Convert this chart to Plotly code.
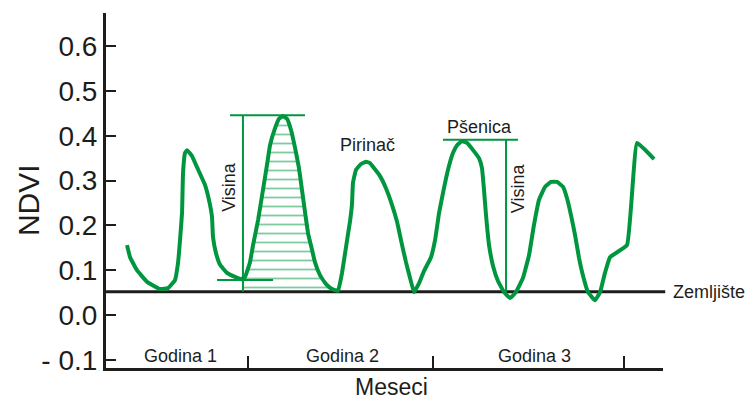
import plotly.graph_objects as go

# NDVI time profile over three seasons (x in months from start of record)
months = [1.46, 1.67, 2.15, 2.85, 3.75, 4.31, 4.79, 5.0, 5.14, 5.28, 5.35, 5.49, 5.63, 5.97, 6.32,
          6.88, 7.15, 7.36, 7.43, 7.64, 7.92, 8.40, 8.96, 9.38, 9.65, 10.0, 10.21, 10.56, 10.90,
          11.18, 11.39, 11.74, 12.01, 12.29, 12.57, 12.85, 13.13, 13.40, 13.61, 13.82, 14.03,
          14.31, 14.51, 14.86, 15.28, 15.69, 16.11, 16.39, 16.74, 16.94, 17.08, 17.15, 17.36,
          17.71, 18.06, 18.33, 18.61, 19.03, 19.44, 19.86, 20.21, 20.56, 20.83, 21.11, 21.39,
          21.74, 22.08, 22.57, 22.85, 23.13, 23.40, 23.75, 24.10, 24.38, 24.72, 25.07, 25.49,
          25.90, 26.11, 26.25, 26.39, 26.60, 26.88, 27.22, 27.64, 28.06, 28.47, 28.96, 29.38,
          29.72, 30.07, 30.49, 30.90, 31.32, 31.74, 32.01, 32.29, 32.57, 32.85, 33.13, 33.47,
          33.96, 34.31, 34.65, 35.0, 36.18, 36.88, 38.06]
ndvi = [0.156, 0.129, 0.100, 0.074, 0.058, 0.060, 0.078, 0.116, 0.167, 0.228, 0.317, 0.362, 0.368,
        0.355, 0.330, 0.290, 0.257, 0.219, 0.174, 0.138, 0.112, 0.094, 0.085, 0.080, 0.085, 0.118,
        0.156, 0.212, 0.279, 0.335, 0.379, 0.417, 0.438, 0.444, 0.438, 0.413, 0.373, 0.328, 0.279,
        0.230, 0.183, 0.145, 0.118, 0.089, 0.069, 0.058, 0.054, 0.094, 0.167, 0.208, 0.246, 0.295,
        0.324, 0.337, 0.342, 0.339, 0.328, 0.310, 0.283, 0.246, 0.208, 0.156, 0.118, 0.083, 0.051,
        0.071, 0.098, 0.129, 0.167, 0.228, 0.272, 0.324, 0.362, 0.379, 0.388, 0.384, 0.368, 0.350,
        0.328, 0.279, 0.223, 0.156, 0.109, 0.076, 0.051, 0.038, 0.051, 0.083, 0.134, 0.201, 0.257,
        0.286, 0.297, 0.297, 0.286, 0.261, 0.223, 0.179, 0.127, 0.087, 0.051, 0.033, 0.051, 0.094,
        0.129, 0.156, 0.384, 0.348]

# Soil reference level
soil_ndvi = 0.052

# Year boundaries and labels
year_ticks = [9.86, 22.71, 35.97]
year_labels = ["Godina 1", "Godina 2", "Godina 3"]
year_label_x = [5.14, 16.39, 29.79]

# Y axis ticks
y_ticks = [-0.1, 0.0, 0.1, 0.2, 0.3, 0.4, 0.5, 0.6]
y_ticktext = ["- 0.1", "0.0", "0.1", "0.2", "0.3", "0.4", "0.5", "0.6"]

# Height markers
rice_height_x = 9.51
rice_base_ndvi = 0.078
rice_peak_ndvi = 0.446
rice_base_span = [7.71, 11.60]
rice_top_span = [8.61, 13.82]
wheat_height_x = 27.78
wheat_peak_ndvi = 0.391
wheat_top_span = [23.40, 28.61]

# Integrated area under the rice season
area_start, area_end = 9.5, 16.2

GREEN = "#00963f"
INK = "#1d1d1b"
FONT = "Liberation Sans, Arial, sans-serif"

fig = go.Figure()

# hatched area between curve and soil line
season = [(m, v) for m, v in zip(months, ndvi) if area_start <= m <= area_end]
area_x = [rice_height_x] + [m for m, _ in season]
area_y = [rice_base_ndvi] + [v for _, v in season]
poly_x = area_x + [area_x[-1], area_x[0]]
poly_y = area_y + [soil_ndvi, soil_ndvi]
fig.add_trace(go.Scatter(
    x=poly_x, y=poly_y, mode="lines", fill="toself",
    line=dict(width=0, color="rgba(0,0,0,0)"),
    fillcolor="rgba(0,0,0,0)",
    fillpattern=dict(shape="-", size=9, solidity=0.2, fgcolor=GREEN,
                     bgcolor="rgba(0,0,0,0)", fillmode="overlay"),
    hoverinfo="skip", showlegend=False,
))

# main NDVI curve
fig.add_trace(go.Scatter(
    x=months, y=ndvi, mode="lines",
    line=dict(color=GREEN, width=4, shape="spline", smoothing=0.3),
    showlegend=False,
))

shapes = [
    # soil line
    dict(type="line", xref="paper", yref="y", x0=0, x1=1.004, y0=soil_ndvi, y1=soil_ndvi,
         line=dict(color=INK, width=3), layer="below"),
    # rice height marker
    dict(type="line", xref="x", yref="y", x0=rice_height_x, x1=rice_height_x,
         y0=soil_ndvi, y1=rice_peak_ndvi, line=dict(color=GREEN, width=2)),
    dict(type="line", xref="x", yref="y", x0=rice_top_span[0], x1=rice_top_span[1],
         y0=rice_peak_ndvi, y1=rice_peak_ndvi, line=dict(color=GREEN, width=2)),
    dict(type="line", xref="x", yref="y", x0=rice_base_span[0], x1=rice_base_span[1],
         y0=rice_base_ndvi, y1=rice_base_ndvi, line=dict(color=GREEN, width=2)),
    # wheat height marker
    dict(type="line", xref="x", yref="y", x0=wheat_height_x, x1=wheat_height_x,
         y0=soil_ndvi, y1=wheat_peak_ndvi, line=dict(color=GREEN, width=2)),
    dict(type="line", xref="x", yref="y", x0=wheat_top_span[0], x1=wheat_top_span[1],
         y0=wheat_peak_ndvi, y1=wheat_peak_ndvi, line=dict(color=GREEN, width=2)),
]

annotations = []
for lx, lt in zip(year_label_x, year_labels):
    annotations.append(dict(x=lx, y=-0.0915, xref="x", yref="y", text=lt, showarrow=False,
                            font=dict(size=18, color=INK, family=FONT)))
annotations += [
    dict(x=8.54, y=0.286, xref="x", yref="y", text="Visina", textangle=-90, showarrow=False,
         font=dict(size=18, color=INK, family=FONT)),
    dict(x=28.61, y=0.283, xref="x", yref="y", text="Visina", textangle=-90, showarrow=False,
         font=dict(size=18, color=INK, family=FONT)),
    dict(x=25.97, y=0.420, xref="x", yref="y", text="Pšenica", showarrow=False,
         font=dict(size=18, color=INK, family=FONT)),
    dict(x=18.19, y=0.379, xref="x", yref="y", text="Pirinač", showarrow=False,
         font=dict(size=18, color=INK, family=FONT)),
    dict(x=1.0144, y=soil_ndvi, xref="paper", yref="y", text="Zemljište", showarrow=False,
         xanchor="left", yanchor="middle", font=dict(size=18, color=INK, family=FONT)),
    dict(x=0.5117, y=-0.0535, xref="paper", yref="paper", text="Meseci", showarrow=False,
         yanchor="middle", font=dict(size=23, color=INK, family=FONT)),
    dict(x=-0.140, y=0.473, xref="paper", yref="paper", text="NDVI", textangle=-90,
         showarrow=False, xanchor="center", yanchor="middle",
         font=dict(size=30, color=INK, family=FONT)),
]

fig.update_layout(
    width=748, height=399,
    margin=dict(l=106, r=85, t=13, b=31),
    paper_bgcolor="white", plot_bgcolor="white",
    shapes=shapes, annotations=annotations,
    xaxis=dict(range=[0, 38.68], showgrid=False, zeroline=False, showline=True,
               linecolor=INK, linewidth=3, tickvals=year_ticks, ticks="inside",
               ticklen=12, tickwidth=2, tickcolor=INK, showticklabels=False),
    yaxis=dict(range=[-0.1183, 0.6741], showgrid=False, zeroline=False, showline=True,
               linecolor=INK, linewidth=3, tickvals=y_ticks, ticktext=y_ticktext,
               ticks="inside", ticklen=10, tickwidth=2, tickcolor=INK,
               tickfont=dict(size=28, color=INK, family=FONT)),
)

fig.write_html("out.html")
